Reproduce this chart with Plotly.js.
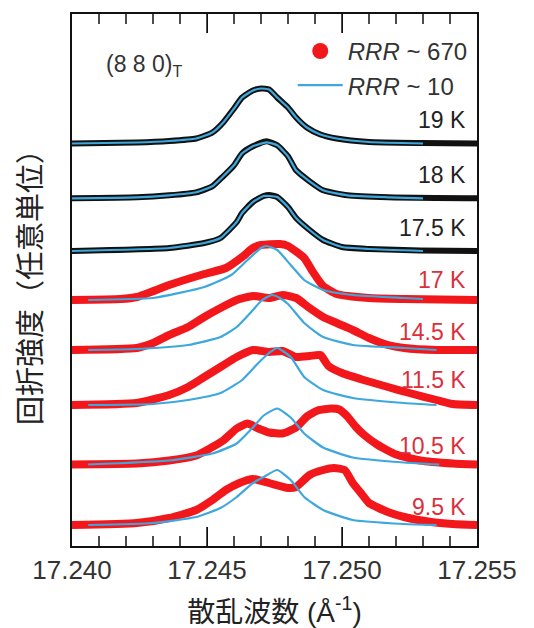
<!DOCTYPE html>
<html>
<head>
<meta charset="utf-8">
<script src="https://cdn.plot.ly/plotly-3.0.1.min.js"></script>
<style>html,body{margin:0;padding:0;background:#fff;}#chart{width:534px;height:628px;}</style>
</head>
<body>
<div id="chart"></div>
<script>
// ---------- data (scattering vector in Å^-1, intensity above each curve's baseline, arb. units) ----------
const temps = ['19 K', '18 K', '17.5 K', '17 K', '14.5 K', '11.5 K', '10.5 K', '9.5 K'];
const offsets = [402.5, 347.7, 295, 246, 196, 141, 81.5, 21];

// RRR ~ 670 sample (dots)
const x19 = [17.2400, 17.2424, 17.2436, 17.2446, 17.2452, 17.2456, 17.2460, 17.2463, 17.2467, 17.2470, 17.2473, 17.2476, 17.2480, 17.2483, 17.2487, 17.2492, 17.2498, 17.2510, 17.2529, 17.2550];
const y19 = [0, 1, 2.5, 5, 11, 21, 35, 46, 53, 55, 54, 46, 36, 26, 16, 9, 5, 1.5, 0.5, 0];
const x18 = [17.2400, 17.2424, 17.2436, 17.2446, 17.2452, 17.2456, 17.2460, 17.2463, 17.2467, 17.2472, 17.2476, 17.2480, 17.2483, 17.2488, 17.2493, 17.2502, 17.2517, 17.2550];
const y18 = [0, 1, 3, 6, 12, 22, 33, 45, 52, 57, 53, 42, 28, 17, 8, 3, 1, 0];
const x175 = [17.2400, 17.2436, 17.2449, 17.2455, 17.2461, 17.2463, 17.2467, 17.2471, 17.2473, 17.2476, 17.2480, 17.2483, 17.2488, 17.2493, 17.2500, 17.2510, 17.2529, 17.2550];
const y175 = [0, 3, 8, 13, 29, 38, 49, 55, 56, 54, 44, 33, 21, 11, 4, 2, 0.5, 0];
const x17 = [17.2400, 17.2418, 17.2424, 17.2436, 17.2449, 17.2457, 17.2463, 17.2467, 17.2470, 17.2477, 17.2480, 17.2486, 17.2489, 17.2493, 17.2498, 17.2510, 17.2523, 17.2550];
const y17 = [0, 1, 3, 15, 26, 32, 43, 52, 55, 56, 54, 42, 29, 14, 6, 2, 1, 0];
const x145 = [17.2400, 17.2424, 17.2430, 17.2436, 17.2443, 17.2449, 17.2455, 17.2461, 17.2467, 17.2473, 17.2478, 17.2483, 17.2488, 17.2493, 17.2498, 17.2504, 17.2510, 17.2517, 17.2523, 17.2535, 17.2550];
const y145 = [0, 2, 7, 15, 23, 33, 42, 50, 54, 52, 55, 52, 42, 33, 27, 20, 12, 5, 2, 0, 0];
const x115 = [17.2400, 17.2424, 17.2436, 17.2443, 17.2449, 17.2455, 17.2461, 17.2467, 17.2473, 17.2478, 17.2483, 17.2488, 17.2492, 17.2495, 17.2500, 17.2508, 17.2517, 17.2525, 17.2535, 17.2541, 17.2550];
const y115 = [0, 2, 10, 18, 28, 38, 48, 55, 53, 54, 48, 49, 50, 39, 32, 25, 18, 12, 5, 1, 0];
const x105 = [17.2400, 17.2424, 17.2436, 17.2446, 17.2451, 17.2456, 17.2461, 17.2465, 17.2469, 17.2473, 17.2478, 17.2483, 17.2487, 17.2491, 17.2496, 17.2499, 17.2502, 17.2505, 17.2508, 17.2513, 17.2520, 17.2529, 17.2541, 17.2550];
const y105 = [0, 1, 4, 9, 16, 24, 36, 41, 36, 32, 31, 37, 48, 54, 56, 55, 48, 38, 30, 20, 10, 4, 1, 0];
const x95 = [17.2400, 17.2424, 17.2436, 17.2446, 17.2452, 17.2457, 17.2462, 17.2467, 17.2473, 17.2480, 17.2483, 17.2488, 17.2493, 17.2497, 17.2501, 17.2504, 17.2507, 17.2510, 17.2517, 17.2523, 17.2533, 17.2541, 17.2550];
const y95 = [0, 2, 7, 15, 25, 35, 42, 46, 42, 37, 38, 50, 55, 57, 55, 42, 32, 22, 13, 8, 3, 1, 0];

// RRR ~ 10 sample (line)
const bx19 = [17.2400, 17.2424, 17.2436, 17.2446, 17.2452, 17.2456, 17.2460, 17.2463, 17.2467, 17.2470, 17.2473, 17.2476, 17.2480, 17.2483, 17.2487, 17.2492, 17.2498, 17.2510, 17.2530];
const by19 = [0, 1, 2.5, 5, 11, 21, 35, 46, 53, 55, 54, 46, 36, 26, 16, 9, 5, 1.5, 0];
const bx18 = [17.2400, 17.2424, 17.2436, 17.2446, 17.2452, 17.2456, 17.2460, 17.2463, 17.2467, 17.2472, 17.2476, 17.2480, 17.2483, 17.2488, 17.2493, 17.2502, 17.2517, 17.2530];
const by18 = [0, 1, 3, 6, 12, 22, 33, 45, 52, 56, 53, 42, 28, 17, 8, 3, 1, 0];
const bx175 = [17.2400, 17.2436, 17.2449, 17.2455, 17.2461, 17.2463, 17.2467, 17.2471, 17.2473, 17.2476, 17.2480, 17.2483, 17.2488, 17.2493, 17.2500, 17.2510, 17.2530];
const by175 = [0, 3, 8, 13, 29, 38, 49, 55, 55, 54, 44, 33, 21, 11, 4, 2, 0];
const bx17 = [17.2406, 17.2430, 17.2449, 17.2459, 17.2465, 17.2470, 17.2472, 17.2476, 17.2481, 17.2486, 17.2493, 17.2504, 17.2523, 17.2530];
const by17 = [0, 2, 13, 25, 40, 52, 54, 50, 35, 20, 10, 5, 2, 1];
const bx145 = [17.2406, 17.2424, 17.2443, 17.2455, 17.2461, 17.2467, 17.2470, 17.2474, 17.2477, 17.2480, 17.2486, 17.2493, 17.2504, 17.2523, 17.2535];
const by145 = [0, 1, 5, 13, 23, 40, 49, 55, 52, 46, 27, 13, 5, 2, 0];
const bx115 = [17.2406, 17.2430, 17.2443, 17.2455, 17.2463, 17.2469, 17.2473, 17.2476, 17.2481, 17.2486, 17.2493, 17.2504, 17.2523, 17.2535];
const by115 = [0, 1, 5, 12, 25, 42, 52, 57, 48, 28, 15, 7, 2, 0];
const bx105 = [17.2406, 17.2436, 17.2452, 17.2461, 17.2467, 17.2471, 17.2476, 17.2481, 17.2486, 17.2493, 17.2504, 17.2523, 17.2536];
const by105 = [0, 4, 11, 21, 37, 49, 56, 47, 31, 17, 7, 2, 0];
const bx95 = [17.2406, 17.2430, 17.2446, 17.2455, 17.2461, 17.2467, 17.2471, 17.2476, 17.2481, 17.2486, 17.2493, 17.2504, 17.2523, 17.2535];
const by95 = [0, 2, 8, 17, 28, 42, 48, 55, 45, 28, 15, 5, 1, 0];

// axis
const xRange = [17.240, 17.255];
const majorTicks = [17.245, 17.250];
const minorTicks = [17.241, 17.242, 17.243, 17.244, 17.246, 17.247, 17.248, 17.249, 17.251, 17.252, 17.253, 17.254];

// ---------- styling ----------
const dotsX = [x19, x18, x175, x17, x145, x115, x105, x95];
const dotsY = [y19, y18, y175, y17, y145, y115, y105, y95];
const lineX = [bx19, bx18, bx175, bx17, bx145, bx115, bx105, bx95];
const lineY = [by19, by18, by175, by17, by145, by115, by105, by95];
const isNormal = [true, true, true, false, false, false, false, false];
const labelDy = [24, 23, 23, 20, 18, 25, 19, 18];

const RED = '#f2171b';
const BLACK = '#111111';
const BLUE = '#3ea8de';
const LABEL_RED = '#db2f3c';
const FONT = 'Liberation Sans, Arial, Noto Sans CJK JP, sans-serif';
const PLOT_H = 532;
const MAJOR_LEN = 19, MINOR_LEN = 10;

const traces = [];
for (let i = 0; i < temps.length; i++) {
  traces.push({
    x: dotsX[i], y: dotsY[i].map(v => v + offsets[i]), type: 'scatter', mode: 'lines',
    line: {color: isNormal[i] ? BLACK : RED, width: isNormal[i] ? 6 : 8, shape: 'spline', smoothing: 0.5},
    showlegend: false, name: temps[i]
  });
}
for (let i = 0; i < temps.length; i++) {
  traces.push({
    x: lineX[i], y: lineY[i].map(v => v + offsets[i]), type: 'scatter', mode: 'lines',
    line: {color: BLUE, width: 2.2, shape: 'spline', smoothing: 0.5},
    showlegend: false, name: '<i>RRR</i> ~ 10'
  });
}
// legend entries (no data of their own)
traces.push({
  x: [null], y: [null], type: 'scatter', mode: 'markers',
  marker: {color: RED, size: 16}, name: '<i>RRR</i> ~ 670', showlegend: true, legendrank: 1
});
traces.push({
  x: [null], y: [null], type: 'scatter', mode: 'lines',
  line: {color: BLUE, width: 2.2}, name: '<i>RRR</i> ~ 10', showlegend: true, legendrank: 2
});

const annotations = temps.map((t, i) => ({
  text: t, xref: 'paper', yref: 'y', x: 0.978, y: offsets[i] + labelDy[i],
  xanchor: 'right', yanchor: 'middle', showarrow: false,
  font: {family: FONT, size: 23, color: isNormal[i] ? '#222' : LABEL_RED}
}));
annotations.push({
  text: '(8 8 0)<sub>T</sub>', xref: 'paper', yref: 'paper', x: 0.078, y: 0.903,
  xanchor: 'left', yanchor: 'middle', showarrow: false,
  font: {family: FONT, size: 23, color: '#333'}
});

// inside tick marks on top and bottom edges, placed through the x scale
const tickShapes = [];
function addTicks(vals, len) {
  const f = len / PLOT_H;
  vals.forEach(v => {
    tickShapes.push({type: 'line', xref: 'x', yref: 'paper', x0: v, x1: v, y0: 0, y1: f, line: {color: '#111', width: 1.5}, layer: 'above'});
    tickShapes.push({type: 'line', xref: 'x', yref: 'paper', x0: v, x1: v, y0: 1, y1: 1 - f, line: {color: '#111', width: 1.5}, layer: 'above'});
  });
}
addTicks(majorTicks, MAJOR_LEN);
addTicks(minorTicks, MINOR_LEN);

const layout = {
  width: 534, height: 628,
  margin: {l: 72, r: 57, t: 14, b: 82, pad: 0},
  paper_bgcolor: '#ffffff', plot_bgcolor: '#ffffff',
  showlegend: true,
  legend: {
    x: 0.545, y: 0.972, xanchor: 'left', yanchor: 'top',
    bgcolor: 'rgba(0,0,0,0)', borderwidth: 0, itemwidth: 45,
    font: {family: FONT, size: 24, color: '#333'}
  },
  xaxis: {
    range: xRange, tickmode: 'linear', tick0: 17.240, dtick: 0.005, tickformat: '.3f',
    ticks: 'inside', ticklen: MAJOR_LEN, tickcolor: '#111',
    showline: true, linecolor: '#111', linewidth: 2, mirror: 'ticks',
    showgrid: false, zeroline: false,
    tickfont: {family: FONT, size: 26, color: '#333'},
    title: {text: '散乱波数 (Å<sup>-1</sup>)', font: {family: FONT, size: 28, color: '#222'}, standoff: 31}
  },
  yaxis: {
    range: [0, PLOT_H], showline: true, linecolor: '#111', linewidth: 2, mirror: true,
    showticklabels: false, showgrid: false, zeroline: false,
    title: {text: '回折強度（任意単位）', font: {family: FONT, size: 29, color: '#222'}, standoff: 20}
  },
  shapes: tickShapes,
  annotations: annotations
};

Plotly.newPlot('chart', traces, layout, {displayModeBar: false});
</script>
</body>
</html>
